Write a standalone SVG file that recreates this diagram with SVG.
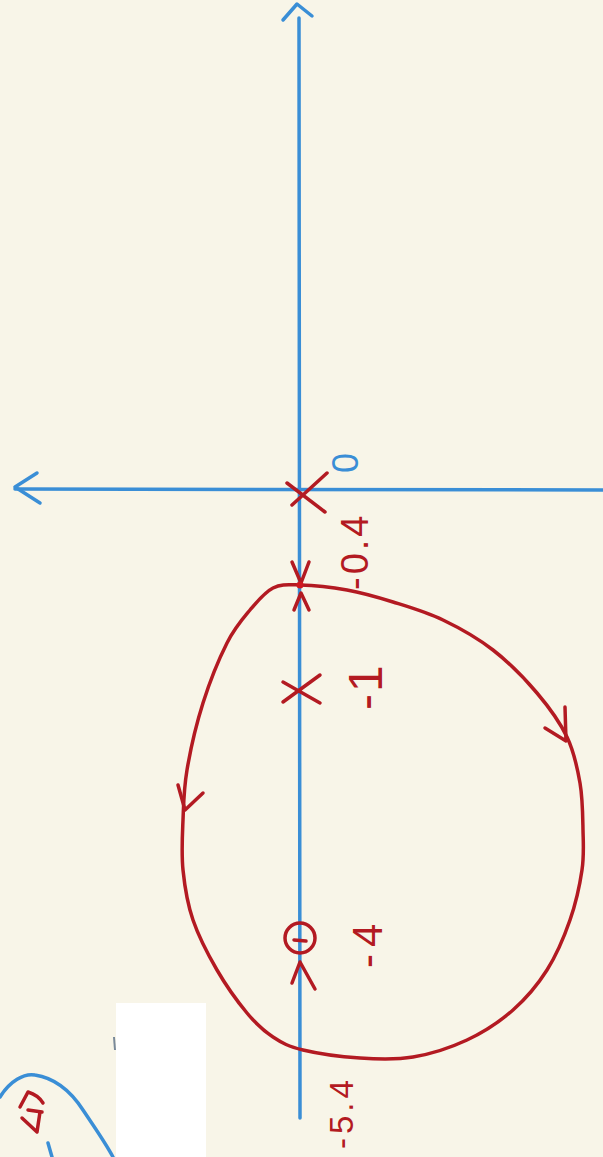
<svg xmlns="http://www.w3.org/2000/svg" width="603" height="1157" viewBox="0 0 603 1157">
<style>
.ax{fill:none;stroke:#3a8ed6;stroke-width:3.5;stroke-linecap:round;stroke-linejoin:round}
.rd{fill:none;stroke:#b31a22;stroke-width:3.5;stroke-linecap:round;stroke-linejoin:round}
.lbl{font-family:"Liberation Sans",Arial,sans-serif;fill:#b31a22}
.lblb{font-family:"Liberation Sans",Arial,sans-serif;fill:#3a8ed6}
</style>
<rect x="0" y="0" width="603" height="1157" fill="#f8f5e8"/>
<g id="axes">
<path class="ax" d="M299,18 L300,1118"/>
<path class="ax" d="M283,20 L297,4 L312,16"/>
<path class="ax" d="M15,489 L603,490"/>
<path class="ax" d="M37,473 L15,487 L40,503"/>
</g>
<g id="connectors">
<path id="locus" class="rd" d="M300,585 C312.3,585.3 331.5,587.2 347,590 C362.5,592.8 377,597 393,602 C409,607 426.3,612 443,620 C459.7,628 477.3,637.8 493,650 C508.7,662.2 524.7,678.5 537,693 C549.3,707.5 559.8,722 567,737 C574.2,752 577.3,767.5 580,783 C582.7,798.5 582.7,815.5 583,830 C583.3,844.5 584.2,855 582,870 C579.8,885 575.8,903.3 570,920 C564.2,936.7 556.5,955 547,970 C537.5,985 526.3,998.3 513,1010 C499.7,1021.7 483.7,1032.2 467,1040 C450.3,1047.8 430.8,1054 413,1057 C395.2,1060 378.3,1059.2 360,1058 C341.7,1056.8 317.5,1053.5 303,1050 C288.5,1046.5 282.3,1043.2 273,1037 C263.7,1030.8 256.3,1024.2 247,1013 C237.7,1001.8 226,985.5 217,970 C208,954.5 198.7,936.7 193,920 C187.3,903.3 184.7,886.7 183,870 C181.3,853.3 182.3,836.7 183,820 C183.7,803.3 183.7,789.5 187,770 C190.3,750.5 196.3,724.2 203,703 C209.7,681.8 219.2,658.5 227,643 C234.8,627.5 242.3,619.2 250,610 C257.7,600.8 264.7,592.2 273,588 C281.3,583.8 287.7,584.7 300,585 Z"/>
<path class="rd" d="M565,707 L566,741 L545,728"/>
<path class="rd" d="M178,785 L185,810 L203,793"/>
<path class="rd" d="M292,562 L301,583 L309,562"/>
<path class="rd" d="M294,610 L301,593 L309,610"/>
<path class="rd" d="M292,983 L300,962 L315,989"/>
</g>
<g id="pole0">
<path class="rd" d="M287,483 L325,512 M327,473 L292,505"/>
<text class="lblb" font-size="36" transform="translate(358,473) rotate(-90)">0</text>
</g>
<g id="breakaway">
<circle cx="300" cy="585" r="3.5" fill="#d01820"/>
<text class="lbl" font-size="38" letter-spacing="3" transform="translate(368,590) rotate(-90)">-0.4</text>
</g>
<g id="pole1">
<path class="rd" d="M283,682 L320,703 M320,675 L283,702"/>
<text class="lbl" font-size="48" letter-spacing="2" transform="translate(382,710) rotate(-90)">-1</text>
</g>
<g id="zero4">
<circle class="rd" cx="300" cy="938" r="15"/>
<path class="rd" d="M294,940 L306,941" stroke-width="2"/>
<text class="lbl" font-size="42" letter-spacing="7" transform="translate(382,968) rotate(-90)">-4</text>
</g>
<g id="breakin">
<text class="lbl" font-size="33" letter-spacing="4" transform="translate(353,1149) rotate(-90)">-5.4</text>
</g>
<g id="fragment">
<path class="ax" d="M0,1097 C10,1081 24,1073 35,1075 C55,1078 70,1090 83,1110 C95,1128 105,1142 113,1157" stroke-width="2.5"/>
<path class="ax" d="M48,1143 L52,1157" stroke-width="2.5"/>
<path class="rd" d="M20,1107 L28,1092 Q38,1095 43,1103 M28,1110 L42,1112 M22,1118 L37,1132 L40,1112" stroke-width="2.5"/>
<rect x="116" y="1003" width="90" height="154" fill="#ffffff"/>
<path d="M114,1037 L115,1050" stroke="#7a8a9a" stroke-width="2"/>
</g>
</svg>
